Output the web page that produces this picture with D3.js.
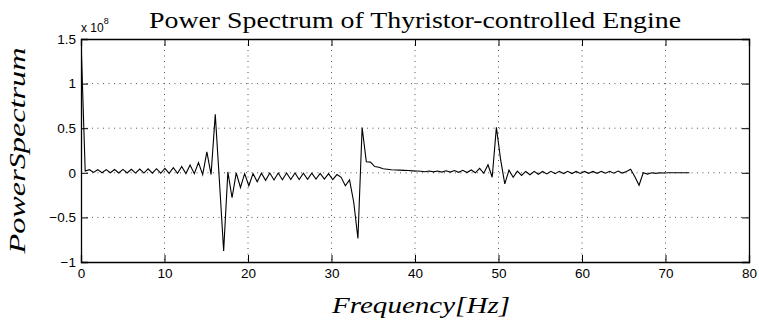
<!DOCTYPE html>
<html><head><meta charset="utf-8">
<script src="https://cdn.jsdelivr.net/npm/d3@7"></script>
<style>body{margin:0;background:#fff}svg{display:block}</style>
</head><body>
<script>
// ---- data (values in units of 1e8) ----
const freqStep = 0.5025; // Hz between spectrum samples
const spectrum = [
 1.50, 0.02, 0.035, 0.005, 0.035, 0.0, 0.036, 0.0, 0.037, -0.002,
 0.038, -0.002, 0.04, -0.003, 0.042, -0.003, 0.044, -0.004, 0.046, -0.005,
 0.05, -0.005, 0.058, -0.006, 0.07, -0.008, 0.088, -0.01, 0.115, -0.02,
 0.235, -0.02, 0.655, -0.1, -0.875, 0.01, -0.28, 0.0, -0.165, -0.01,
 -0.145, -0.01, -0.1, -0.005, -0.085, -0.003, -0.08, -0.003, -0.078, -0.003,
 -0.075, -0.003, -0.075, -0.005, -0.072, -0.005, -0.07, -0.008, -0.07, -0.01,
 -0.075, -0.02, -0.05, -0.145, -0.08, -0.33, -0.736, 0.507, 0.123, 0.12,
 0.07, 0.062, 0.045, 0.04, 0.035, 0.032, 0.03, 0.027, 0.025, 0.022,
 0.02, 0.018, 0.012, 0.02, 0.01, 0.02, 0.008, 0.022, 0.008, 0.025,
 0.005, 0.028, 0.003, 0.032, 0.0, 0.05, -0.005, 0.09, -0.05, 0.51,
 0.15, -0.125, 0.03, -0.05, 0.018, -0.03, 0.015, -0.022, 0.016, -0.016,
 0.015, -0.012, 0.016, -0.01, 0.016, -0.008, 0.016, -0.008, 0.015, -0.007,
 0.015, -0.006, 0.015, -0.006, 0.016, -0.005, 0.017, -0.005, 0.02, -0.003,
 0.015, 0.04, -0.045, -0.14, 0.0, -0.015, 0.0, -0.006, 0.0, -0.002,
 0.0, 0.0, 0.0, 0.0, 0.0, 0.0
];
const xTicks = [0,10,20,30,40,50,60,70,80];
const yTicks = [-1,-0.5,0,0.5,1,1.5];
const yTickLabels = ["\u22121","\u22120.5","0","0.5","1","1.5"];
const titleText = "Power Spectrum of Thyristor-controlled Engine";
const xLabel = "Frequency[Hz]";
const yLabel = "PowerSpectrum";

// ---- layout ----
const W = 759, H = 329;
const L = 81, R = 749, T = 39, B = 262;
const svg = d3.select("body").append("svg").attr("width", W).attr("height", H);

const x = d3.scaleLinear().domain([0,80]).range([L,R]);
const y = d3.scaleLinear().domain([-1,1.5]).range([B,T]);

// grid
const grid = svg.append("g").attr("stroke","#555").attr("stroke-width",1)
  .attr("stroke-dasharray","1,4.5");
xTicks.slice(1,-1).forEach(t=>{
  grid.append("line").attr("x1",x(t)).attr("x2",x(t)).attr("y1",T).attr("y2",B);
});
yTicks.slice(1,-1).forEach(t=>{
  grid.append("line").attr("x1",L).attr("x2",R).attr("y1",y(t)).attr("y2",y(t));
});

// line
svg.append("clipPath").attr("id","clip").append("rect")
  .attr("x",L).attr("y",T).attr("width",R-L).attr("height",B-T);
const line = d3.line().x((d,i)=>x(i*freqStep)).y(d=>y(d));
svg.append("path").datum(spectrum).attr("d",line)
  .attr("fill","none").attr("stroke","#000").attr("stroke-width",1.1)
  .attr("clip-path","url(#clip)");

// axes (ticks inside, box)
const tl = 7;
const axB = d3.axisBottom(x).tickValues(xTicks).tickSize(-tl).tickPadding(6).tickFormat(d3.format("d"));
const axT = d3.axisTop(x).tickValues(xTicks).tickSize(-tl).tickFormat("");
const axL = d3.axisLeft(y).tickValues(yTicks).tickSize(-tl).tickPadding(5).tickFormat((d,i)=>yTickLabels[i]);
const axR = d3.axisRight(y).tickValues(yTicks).tickSize(-tl).tickFormat("");
function style(g){
  g.select(".domain").attr("stroke","#000").attr("stroke-width",1.3);
  g.selectAll(".tick line").attr("stroke","#000").attr("stroke-width",1);
  g.selectAll(".tick text").attr("fill","#000")
    .style("font-family","'Liberation Sans', Arial, sans-serif").style("font-size","13.5px");
}
svg.append("g").attr("transform",`translate(0,${B})`).call(axB).call(style);
svg.append("g").attr("transform",`translate(0,${T})`).call(axT).call(style);
svg.append("g").attr("transform",`translate(${L},0)`).call(axL).call(style);
svg.append("g").attr("transform",`translate(${R},0)`).call(axR).call(style);

// exponent label
const ex = svg.append("text").attr("x",L).attr("y",32)
  .style("font-family","'Liberation Sans', Arial, sans-serif").style("font-size","12px").attr("fill","#000");
ex.append("tspan").text("x 10");
ex.append("tspan").attr("dy",-8).style("font-size","9px").text("8");

// title
svg.append("text").attr("x",(L+R)/2).attr("y",28).attr("text-anchor","middle")
  .style("font-family","'Liberation Serif', 'Times New Roman', serif").style("font-size","23px")
  .attr("textLength",532).attr("lengthAdjust","spacingAndGlyphs")
  .attr("fill","#000").text(titleText);

// x label
svg.append("text").attr("x",421).attr("y",313).attr("text-anchor","middle")
  .style("font-family","'Liberation Serif', 'Times New Roman', serif").style("font-style","italic").style("font-size","24px")
  .attr("textLength",178).attr("lengthAdjust","spacingAndGlyphs")
  .attr("fill","#000").text(xLabel);

// y label
svg.append("text").attr("transform",`translate(25,${(T+B)/2}) rotate(-90)`).attr("text-anchor","middle")
  .style("font-family","'Liberation Serif', 'Times New Roman', serif").style("font-style","italic").style("font-size","24px")
  .attr("textLength",206).attr("lengthAdjust","spacingAndGlyphs")
  .attr("fill","#000").text(yLabel);
</script>
</body></html>
